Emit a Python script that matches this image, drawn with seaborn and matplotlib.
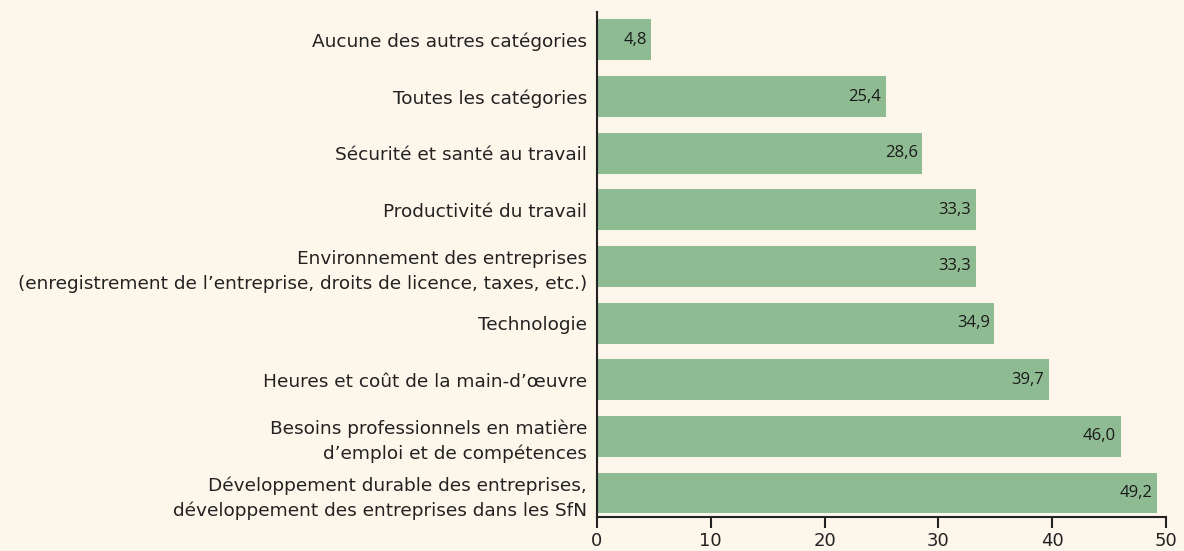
import matplotlib
matplotlib.use("Agg")
import matplotlib.pyplot as plt
import seaborn as sns
import pandas as pd

categories = [
    "Aucune des autres catégories",
    "Toutes les catégories",
    "Sécurité et santé au travail",
    "Productivité du travail",
    "Environnement des entreprises\n(enregistrement de l\u2019entreprise, droits de licence, taxes, etc.)",
    "Technologie",
    "Heures et coût de la main-d\u2019œuvre",
    "Besoins professionnels en matière\nd\u2019emploi et de compétences",
    "Développement durable des entreprises,\ndéveloppement des entreprises dans les SfN",
]
values = [4.8, 25.4, 28.6, 33.3, 33.3, 34.9, 39.7, 46.0, 49.2]
x_ticks = [0, 10, 20, 30, 40, 50]

bg = "#fdf6ea"
bar_color = "#8fbb93"

sns.set_theme(style="white")
plt.rcParams["font.family"] = ["DejaVu Sans"]

df = pd.DataFrame({"cat": categories, "val": values})

fig = plt.figure(figsize=(11.84, 5.51), dpi=100, facecolor=bg)
ax = fig.add_axes([0.504, 0.062, 0.481, 0.916])
ax.set_facecolor(bg)

sns.barplot(data=df, y="cat", x="val", orient="h", color=bar_color,
            saturation=1, width=0.72, linewidth=0, ax=ax)

for i, v in enumerate(values):
    ax.text(v - 0.4, i, f"{v:.1f}".replace(".", ","), ha="right", va="center",
            fontsize=12, family=["Open Sans", "DejaVu Sans"], color="#1a1a1a")

ax.set_xlim(0, 50)
ax.set_ylim(8.42, -0.49)
ax.set_xticks(x_ticks)
ax.set_xticklabels([str(t) for t in x_ticks], fontsize=13, color="#222222")
ax.tick_params(axis="x", bottom=True, direction="out", length=8, width=1.5,
               color="#222222", pad=3)
ax.tick_params(axis="y", left=False, length=0, labelsize=13.3, labelcolor="#222222", pad=7)
for lbl in ax.get_yticklabels():
    lbl.set_linespacing(1.45)
ax.set_xlabel("")
ax.set_ylabel("")

for s in ["top", "right"]:
    ax.spines[s].set_visible(False)
for s in ["left", "bottom"]:
    ax.spines[s].set_color("#222222")
    ax.spines[s].set_linewidth(1.5)

fig.savefig("out.png", dpi=100, facecolor=bg)
